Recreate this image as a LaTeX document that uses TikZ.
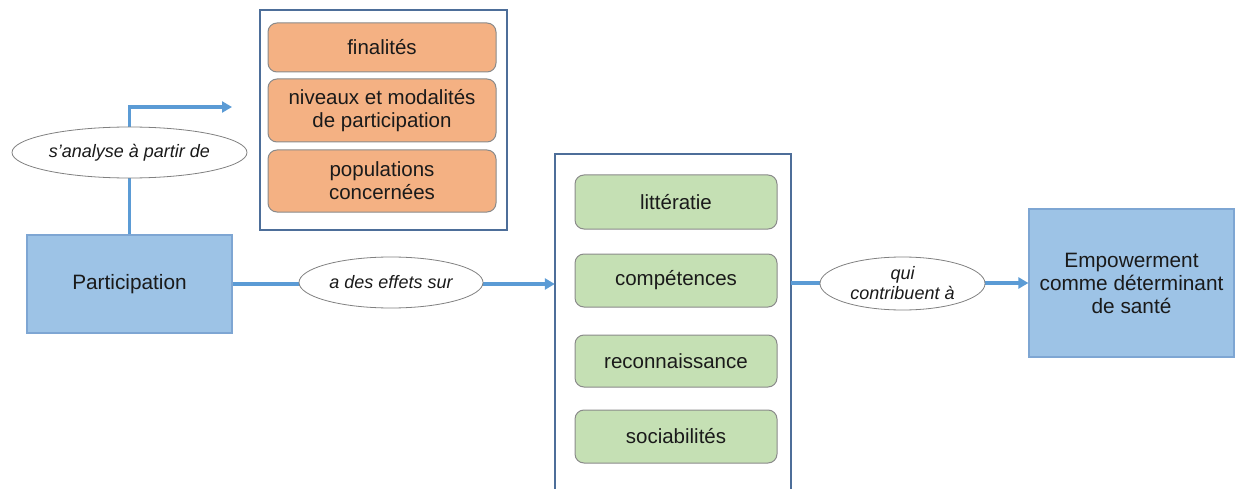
\documentclass[tikz,border=0pt]{standalone}
\usepackage{fontspec}
\setmainfont{Liberation Sans}
\usetikzlibrary{shapes.geometric,arrows.meta}
\definecolor{boxblue}{HTML}{9DC3E6}
\definecolor{boxblueb}{HTML}{7EA6D3}
\definecolor{grpb}{HTML}{4D6E99}
\definecolor{orangef}{HTML}{F4B183}
\definecolor{greenf}{HTML}{C5E0B4}
\definecolor{arrowc}{HTML}{5B9BD5}
\definecolor{itemb}{HTML}{8A8A8A}
\definecolor{txt}{HTML}{1A1A1A}
\begin{document}
\begin{tikzpicture}[x=1pt,y=-1pt,
  mainbox/.style={draw=boxblueb, fill=boxblue, line width=1.2pt, text=txt,
    font=\fontsize{20.8}{23}\selectfont, align=center, inner sep=0pt},
  grpbox/.style={draw=grpb, line width=2.5pt, inner sep=0pt},
  grpline/.style={draw=grpb, line width=2.5pt},
  orangebox/.style={draw=itemb, fill=orangef, rounded corners=9pt, line width=1pt, text=txt,
    font=\fontsize{20.5}{23}\selectfont, align=center, inner sep=0pt, minimum width=228pt},
  greenbox/.style={draw=itemb, fill=greenf, rounded corners=9pt, line width=1pt, text=txt,
    font=\fontsize{20.5}{23}\selectfont, align=center, inner sep=0pt, minimum width=202pt},
  conn/.style={draw=arrowc, line width=3.5pt, -{Triangle[length=10pt,width=11pt]}},
  lbl/.style={ellipse, draw=gray, fill=white, line width=0.8pt, text=txt,
    font=\fontsize{18}{20}\selectfont\itshape, inner sep=0pt, align=center}
]
\useasboundingbox (0,0) rectangle (1236,489);

% main boxes
\node[mainbox, minimum width=205pt, minimum height=98pt] (part) at (129.5,284) {Participation};
\node[mainbox, minimum width=205pt, minimum height=148pt] (emp) at (1131.5,283)
  {Empowerment\\comme déterminant\\de santé};

% orange group
\node[grpbox, minimum width=247pt, minimum height=220pt] (grp1) at (383.5,120) {};
\node[orangebox, minimum height=49pt] (fin) at (382,47.5) {finalités};
\node[orangebox, minimum height=63pt] (niv) at (382,110.5) {niveaux et modalités\\de participation};
\node[orangebox, minimum height=62pt] (pop) at (382,181) {populations\\concernées};

% green group (open at the bottom edge of the picture)
\node[minimum width=236pt, minimum height=345pt, inner sep=0pt] (grp2) at (673,326.5) {};
\draw[grpline] (grp2.south west) -- (grp2.north west) -- (grp2.north east) -- (grp2.south east);
\node[greenbox, minimum height=54pt] (lit) at (676,202) {littératie};
\node[greenbox, minimum height=53pt] (comp) at (676,280.5) {compétences};
\node[greenbox, minimum height=52pt] (rec) at (676,361) {reconnaissance};
\node[greenbox, minimum height=53pt] (soc) at (676,436.5) {sociabilités};

% connectors
\coordinate (anaEnd) at (232,107);
\draw[conn] (part.north) -- (part.north |- anaEnd) -- (anaEnd);
\draw[conn] (part.east) -- (part.east -| grp2.west);
\draw[conn] (grp2.east |- emp.west) -- (emp.west);

% connector labels
\node[lbl, minimum width=235pt, minimum height=51pt] (ana) at (129.5,152.5) {s’analyse à partir de};
\node[lbl, minimum width=184pt, minimum height=51pt] (eff) at (391,282.5) {a des effets sur};
\node[lbl, minimum width=165pt, minimum height=53pt] (contr) at (902.5,283.5) {qui\\contribuent à};
\end{tikzpicture}
\end{document}
